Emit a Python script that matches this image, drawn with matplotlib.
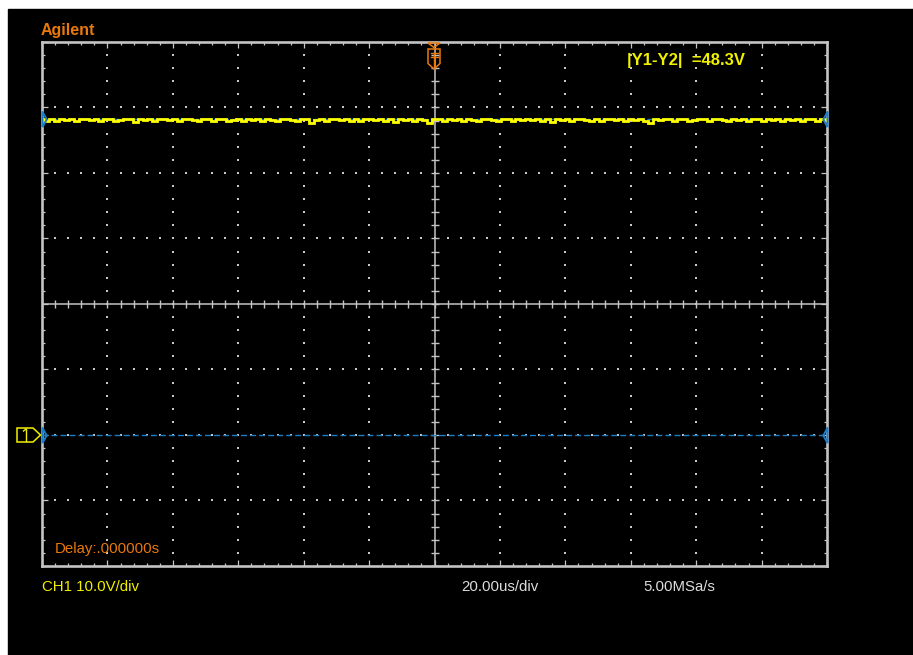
import numpy as np
import matplotlib
matplotlib.use("Agg")
import matplotlib.pyplot as plt
from matplotlib.patches import Rectangle, Polygon
from matplotlib.lines import Line2D

# ---------------- data ----------------
time_span_us = (-120.0, 120.0)       # 12 div x 20 us/div, delay 0
volt_span = (-20.0, 60.0)            # 8 div x 10 V/div, ground 2 div below centre
trace_v = [
    48.2, 48.0, 48.3, 47.9, 48.2, 48.1, 48.3, 48.0, 48.2, 48.3,
    48.1, 48.2, 47.9, 48.3, 48.2, 48.0, 48.1, 48.3, 48.2, 47.8,
    48.2, 48.1, 48.3, 48.0, 48.2, 48.3, 48.1, 48.2, 48.0, 48.3,
    48.2, 48.1, 47.9, 48.3, 48.2, 48.0, 48.2, 48.3, 47.9, 48.1,
    48.2, 48.0, 48.3, 48.1, 48.2, 47.9, 48.2, 48.1, 48.0, 48.2,
    48.3, 48.1, 48.0, 48.2, 48.3, 47.7, 48.1, 48.2, 48.0, 48.3,
    48.2, 48.1, 48.3, 48.0, 48.2, 47.9, 48.2, 48.3, 48.1, 48.2,
    48.0, 48.2, 47.8, 48.2, 48.1, 48.3, 48.0, 48.2, 48.1, 47.7,
    48.3, 48.2, 48.0, 48.2, 48.1, 48.3, 47.9, 48.2, 48.1, 48.0,
    48.3, 48.2, 48.1, 47.9, 48.2, 48.3, 48.0, 48.2, 48.1, 48.2,
    48.1, 48.3, 48.0, 48.2, 47.8, 48.3, 48.1, 48.2, 48.0, 48.2,
    48.3, 48.1, 47.9, 48.2, 48.0, 48.3, 48.2, 48.1, 48.3, 47.9,
    48.2, 48.1, 48.3, 48.0, 47.7, 48.2, 48.1, 48.3, 48.2, 48.0,
    48.3, 48.2, 47.9, 48.1, 48.3, 48.2, 48.0, 48.2, 48.3, 48.1,
    47.9, 48.2, 48.1, 48.3, 48.0, 48.2, 48.2, 47.9, 48.3, 48.1,
    48.2, 48.0, 48.3, 48.1, 48.2, 47.9, 48.3, 48.2, 48.0, 48.2,
    48.1,
]
trace_t_us = np.linspace(time_span_us[0], time_span_us[1], len(trace_v))
cursor_y1 = 48.3
cursor_y2 = 0.0
ground_level = 0.0

brand_text = "Agilent"
cursor_text = "|Y1-Y2|  =48.3V"
delay_text = "Delay:.000000s"
ch_text = "CH1 10.0V/div"
time_text = "20.00us/div"
rate_text = "5.00MSa/s"

# ---------------- style ----------------
W, H = 913, 655
GRAY = "#c4c4c4"
DOT = "#c8c8c8"
ORANGE = "#e8790c"
YELLOW = "#f0f000"
TRACE = "#ffff00"
BLUE = "#1c7cc4"
FONT = "Liberation Sans"

def fp(x, y):
    """image pixel (from top-left) -> figure fraction"""
    return (x / W, 1 - y / H)

fig = plt.figure(figsize=(W / 100, H / 100), dpi=100, facecolor="white")
fig.patches.append(Rectangle(fp(8, H), (W - 8) / W, (H - 9) / H,
                             transform=fig.transFigure, color="black", zorder=-10))

L, T, R, B = 42, 42, 827, 566
ax = fig.add_axes([L / W, 1 - B / H, (R - L) / W, (B - T) / H], zorder=1)
ax.set_facecolor("black")
ax.set_xlim(*time_span_us)
ax.set_ylim(*volt_span)

xdiv, ydiv = 20.0, 10.0
xmaj = np.arange(time_span_us[0], time_span_us[1] + 0.1, xdiv)
ymaj = np.arange(volt_span[0], volt_span[1] + 0.1, ydiv)
xmin = np.arange(time_span_us[0], time_span_us[1] + 0.1, xdiv / 5)
ymin = np.arange(volt_span[0], volt_span[1] + 0.1, ydiv / 5)
ax.set_xticks(xmaj)
ax.set_yticks(ymaj)
ax.set_xticks(xmin, minor=True)
ax.set_yticks(ymin, minor=True)
ax.tick_params(which="both", direction="in", top=True, right=True,
               labelbottom=False, labelleft=False, color=GRAY, width=0.9)
ax.tick_params(which="major", length=4.5)
ax.tick_params(which="minor", length=2.4)
for s in ax.spines.values():
    s.set_color(GRAY)
    s.set_linewidth(1.9)

xc = (time_span_us[0] + time_span_us[1]) / 2
yc = (volt_span[0] + volt_span[1]) / 2

# dotted graticule
for gx in xmaj[1:-1]:
    if gx == xc:
        continue
    ax.plot(np.full(len(ymin) - 2, gx), ymin[1:-1], ls="none", marker="s",
            ms=1.6, mew=0, color=DOT, zorder=1)
for gy in ymaj[1:-1]:
    if gy == yc:
        continue
    ax.plot(xmin[1:-1], np.full(len(xmin) - 2, gy), ls="none", marker="s",
            ms=1.6, mew=0, color=DOT, zorder=1)

# centre cross with ticks
ax.axvline(xc, color=GRAY, lw=1.1, zorder=2)
ax.axhline(yc, color=GRAY, lw=1.1, zorder=2)
ax.plot(np.full(len(ymin), xc), ymin, ls="none", marker="_", ms=5.5, mew=1.0,
        color=GRAY, zorder=2)
ax.plot(xmin, np.full(len(xmin), yc), ls="none", marker="|", ms=5.5, mew=1.0,
        color=GRAY, zorder=2)

# cursors
for cy in (cursor_y1, cursor_y2):
    ax.axhline(cy, color=BLUE, lw=1.0, ls=(0, (4.3, 2.2)), zorder=3)
    ax.plot([time_span_us[0]], [cy], marker=[(0, -1), (0, 1), (0.55, 0), (0, -1)],
            ms=11, mfc="none", mec=BLUE, mew=1.4, clip_on=False, zorder=6)
    ax.plot([time_span_us[1]], [cy], marker=[(0, -1), (0, 1), (-0.55, 0), (0, -1)],
            ms=11, mfc="none", mec=BLUE, mew=1.4, clip_on=False, zorder=6)

# trace
ax.plot(trace_t_us, trace_v, color=TRACE, lw=2.0, drawstyle="steps-mid",
        zorder=4, solid_joinstyle="miter")

# ground marker "1"
gy_img = 435
gnd = Polygon([fp(17, gy_img - 7), fp(33, gy_img - 7), fp(40.5, gy_img),
               fp(33, gy_img + 7), fp(17, gy_img + 7)], closed=True,
              transform=fig.transFigure, fill=False, ec=YELLOW, lw=1.1, zorder=5)
fig.patches.append(gnd)
fig.lines.append(Line2D(*zip(fp(26, gy_img - 6), fp(26, gy_img + 6)),
                        transform=fig.transFigure, color=YELLOW, lw=1.0, zorder=5))
fig.lines.append(Line2D(*zip(fp(23.5, gy_img - 4), fp(26, gy_img - 6)),
                        transform=fig.transFigure, color=YELLOW, lw=1.0, zorder=5))

# trigger marker
tx = 434
trig_top = Polygon([fp(tx - 6, 43), fp(tx + 6, 43), fp(tx, 47.5)], closed=True,
                   transform=fig.transFigure, fill=False, ec=ORANGE, lw=1.1, zorder=5)
shield = Polygon([fp(tx - 6, 49), fp(tx + 6, 49), fp(tx + 6, 63.5),
                  fp(tx, 69), fp(tx - 6, 63.5)], closed=True,
                 transform=fig.transFigure, fill=False, ec=ORANGE, lw=1.1, zorder=5)
fig.patches.extend([trig_top, shield])
for (x0, y0, x1, y1) in [(tx - 3.5, 53, tx + 3.5, 53), (tx - 3.5, 56.5, tx + 3.5, 56.5),
                         (tx, 53, tx, 66)]:
    fig.lines.append(Line2D(*zip(fp(x0, y0), fp(x1, y1)),
                            transform=fig.transFigure, color=ORANGE, lw=1.0, zorder=5))

# texts
fig.text(*fp(41, 35.5), brand_text, color=ORANGE, fontsize=11.5, fontweight="bold",
         family=FONT, va="baseline", ha="left", zorder=5)
fig.text(*fp(627, 65), cursor_text, color=YELLOW, fontsize=12, fontweight="bold",
         family=FONT, va="baseline", ha="left", zorder=5)
fig.text(*fp(55, 553), delay_text, color=ORANGE, fontsize=10.8,
         family=FONT, va="baseline", ha="left", zorder=5)
fig.text(*fp(42, 591), ch_text, color=YELLOW, fontsize=10.8,
         family=FONT, va="baseline", ha="left", zorder=5)
fig.text(*fp(461, 591), time_text, color="#dcdcdc", fontsize=10.8,
         family=FONT, va="baseline", ha="left", zorder=5)
fig.text(*fp(643, 591), rate_text, color="#dcdcdc", fontsize=10.8,
         family=FONT, va="baseline", ha="left", zorder=5)

fig.savefig("out.png", dpi=100, facecolor="white")
